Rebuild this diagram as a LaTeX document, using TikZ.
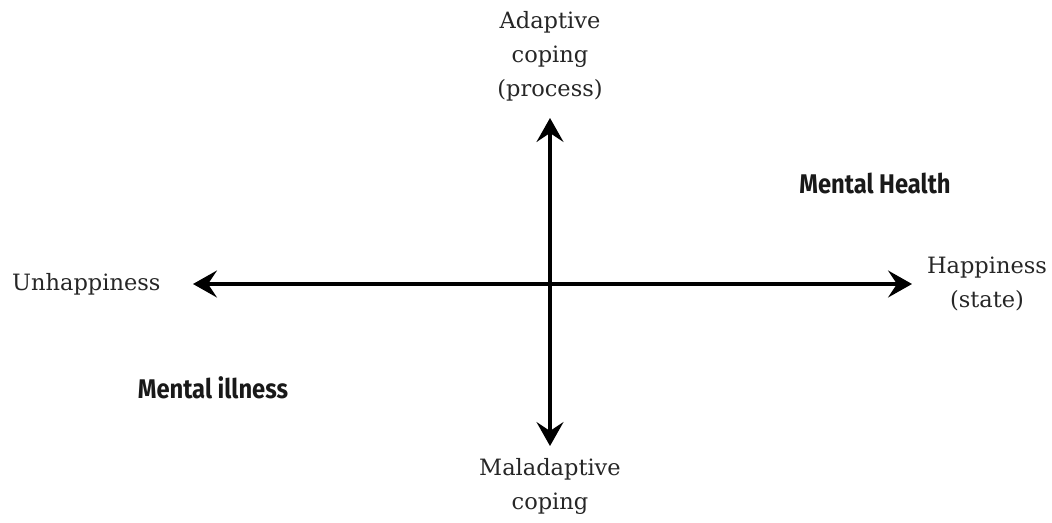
\documentclass[tikz,border=0pt]{standalone}
\usepackage{fontspec}
\setmainfont{DejaVu Serif}
\newfontfamily\labelfont[FakeStretch=0.88]{Fira Sans}
\usetikzlibrary{arrows.meta}
\begin{document}
\begin{tikzpicture}[x=1pt,y=-1pt,
  axis/.style={line width=3.2pt,{Stealth[length=24pt,width=27pt,inset=9pt]}-{Stealth[length=24pt,width=27pt,inset=9pt]}},
  pole/.style={font=\fontsize{22.5}{34}\selectfont, align=center, text=black!85, inner sep=0pt},
  region/.style={font=\labelfont\bfseries\fontsize{27}{30}\selectfont, text=black!90, inner sep=0pt}]
\useasboundingbox (0,0) rectangle (1052,522);
% end points of the two axes
\coordinate (left) at (193,284);
\coordinate (right) at (912,284);
\coordinate (top) at (550,118);
\coordinate (bottom) at (550,446);
\draw[axis] (left) -- (right);
\draw[axis] (bottom) -- (top);
% pole labels
\node[pole] (adapt) at (550,56) {Adaptive\\coping\\(process)};
\node[pole] (malad) at (550,486) {Maladaptive\\coping};
\node[pole] (happy) at (987,284) {Happiness\\(state)};
\node[pole, anchor=west] (unhappy) at (12,284) {Unhappiness};
% region labels
\node[region] (health) at (875,183) {Mental Health};
\node[region] (illness) at (213,388) {Mental illness};
\end{tikzpicture}
\end{document}
